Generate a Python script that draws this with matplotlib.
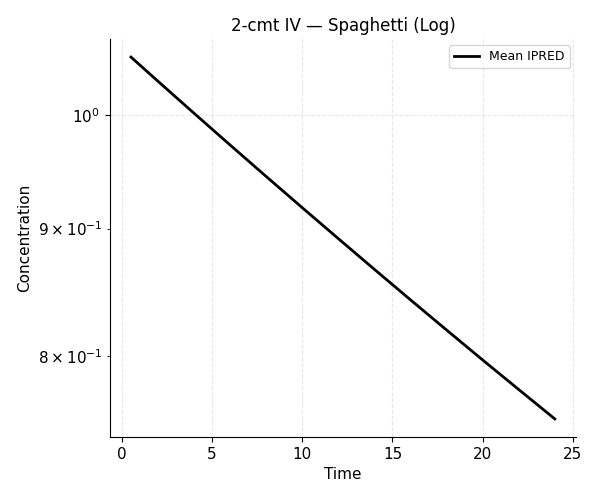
import matplotlib
matplotlib.use("Agg")
import matplotlib.pyplot as plt

time = [0.5, 2, 4, 6, 8, 10, 12, 14, 16, 18, 20, 22, 24]
mean_ipred = [1.0548, 1.0314, 1.0013, 0.9723, 0.9444, 0.9175, 0.8916,
              0.8666, 0.8425, 0.8193, 0.7969, 0.7754, 0.7546]

fig, ax = plt.subplots(figsize=(6, 5), dpi=100)
ax.plot(time, mean_ipred, color="black", lw=2, label="Mean IPRED")
ax.set_yscale("log")
ax.set_xticks([0, 5, 10, 15, 20, 25])
ax.set_title("2-cmt IV \u2014 Spaghetti (Log)", fontsize=12)
ax.set_xlabel("Time", fontsize=11)
ax.set_ylabel("Concentration", fontsize=11)
ax.tick_params(axis="both", which="both", labelsize=11)
ax.grid(True, which="major", linestyle="--", alpha=0.3)
ax.spines["top"].set_visible(False)
ax.spines["right"].set_visible(False)
ax.legend(loc="upper right", fontsize=9)
fig.subplots_adjust(left=0.183, right=0.96, top=0.922, bottom=0.126)
fig.savefig("out.png")
